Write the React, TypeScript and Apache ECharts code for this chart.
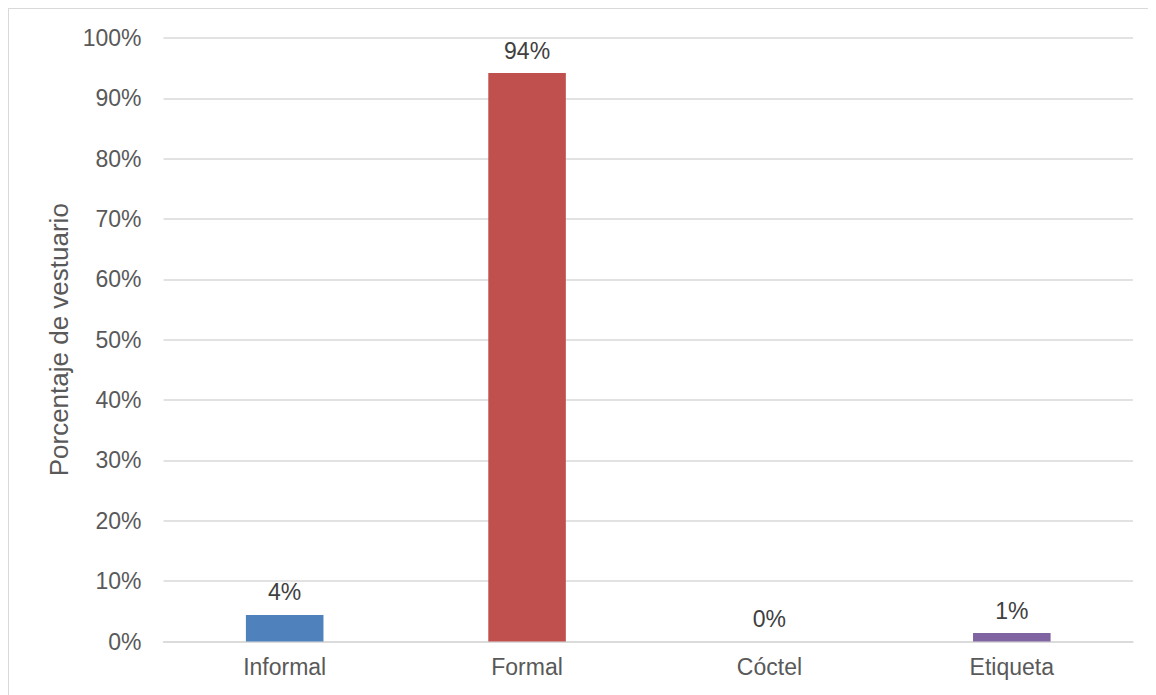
import React, { useEffect, useRef } from "react";
import * as echarts from "echarts";

const categories = ["Informal", "Formal", "Cóctel", "Etiqueta"];
const values = [4.4, 94.2, 0, 1.4];
const barColors = ["#4f81bd", "#c0504d", "#9bbb59", "#8064a2"];
const yAxisName = "Porcentaje de vestuario";

export default function App() {
  const ref = useRef<HTMLDivElement>(null);
  useEffect(() => {
    if (!ref.current) return;
    const chart = echarts.init(ref.current, undefined, { renderer: "svg" });
    const font = "'Liberation Sans', Arial, sans-serif";
    chart.setOption({
      animation: false,
      textStyle: { fontFamily: font },
      grid: { left: 154.5, right: 23, top: 29, bottom: 53.5, containLabel: false },
      xAxis: {
        type: "category",
        data: categories,
        axisTick: { show: false },
        axisLine: { show: true, lineStyle: { color: "#d9d9d9", width: 1.5 } },
        axisLabel: { color: "#595959", fontSize: 23, margin: 14, fontFamily: font },
      },
      yAxis: {
        type: "value",
        min: 0,
        max: 100,
        interval: 10,
        name: yAxisName,
        nameLocation: "middle",
        nameGap: 91,
        nameTextStyle: { color: "#595959", fontSize: 26, fontFamily: font },
        axisLine: { show: false },
        axisTick: { show: false },
        axisLabel: {
          color: "#595959",
          fontSize: 23,
          margin: 22,
          fontFamily: font,
          formatter: (v: number) => `${v}%`,
        },
        splitLine: { lineStyle: { color: "#d9d9d9", width: 1.5 } },
      },
      series: [
        {
          type: "bar",
          barWidth: "32%",
          data: values.map((v, i) => ({ value: v, itemStyle: { color: barColors[i] } })),
          label: {
            show: true,
            position: "top",
            distance: 11,
            color: "#404040",
            fontSize: 23,
            fontFamily: font,
            formatter: (p: any) => `${Math.round(p.value)}%`,
          },
        },
      ],
    });
    return () => chart.dispose();
  }, []);
  return (
    <div
      style={{
        width: 1148,
        height: 687,
        boxSizing: "border-box",
        borderLeft: "1px solid #d9d9d9",
        borderTop: "1px solid #d9d9d9",
        background: "#fff",
      }}
    >
      <div ref={ref} style={{ width: 1147, height: 686 }} />
    </div>
  );
}
